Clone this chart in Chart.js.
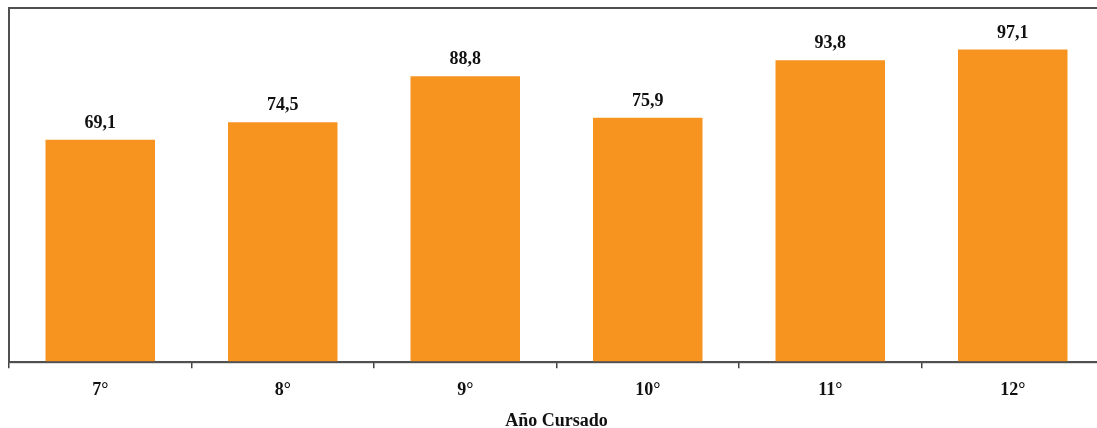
<!DOCTYPE html>
<html>
<head>
<meta charset="utf-8">
<script src="https://cdn.jsdelivr.net/npm/chart.js@4.4.1/dist/chart.umd.min.js"></script>
<style>
  html, body { margin: 0; padding: 0; background: #fff; overflow: hidden; }
  #wrap { width: 1120px; height: 429px; }
</style>
</head>
<body>
<div id="wrap"><canvas id="grafico" width="1120" height="429"></canvas></div>
<script>
// datos del gráfico
const cursos = ['7°', '8°', '9°', '10°', '11°', '12°'];
const valores = [69.1, 74.5, 88.8, 75.9, 93.8, 97.1];
const tituloEje = 'Año Cursado';

const fuente = { family: "'Liberation Serif', 'Times New Roman', serif", size: 18, weight: 'bold' };

// marco alrededor del área del gráfico
const marco = {
    id: 'marco',
    afterDraw(chart) {
        const { ctx, chartArea } = chart;
        ctx.save();
        ctx.strokeStyle = '#505050';
        ctx.lineWidth = 2;
        ctx.strokeRect(chartArea.left, chartArea.top, chartArea.right - chartArea.left, chartArea.bottom - chartArea.top);
        ctx.restore();
    }
};

// etiquetas con el valor encima de cada barra
const etiquetas = {
    id: 'etiquetas',
    afterDatasetsDraw(chart) {
        const { ctx } = chart;
        const meta = chart.getDatasetMeta(0);
        ctx.save();
        ctx.font = 'bold 18px "Liberation Serif", "Times New Roman", serif';
        ctx.fillStyle = '#111';
        ctx.textAlign = 'center';
        ctx.textBaseline = 'alphabetic';
        meta.data.forEach((bar, i) => {
            ctx.fillText(valores[i].toFixed(1).replace('.', ','), bar.x, bar.y - 12);
        });
        ctx.restore();
    }
};

new Chart(document.getElementById('grafico').getContext('2d'), {
    type: 'bar',
    data: {
        labels: cursos,
        datasets: [{
            data: valores,
            backgroundColor: '#F7941F',
            borderWidth: 0,
            barPercentage: 0.6,
            categoryPercentage: 1.0
        }]
    },
    options: {
        responsive: false,
        animation: false,
        layout: { padding: { left: 9, top: 8, right: 16, bottom: 0 } },
        plugins: {
            legend: { display: false },
            tooltip: { enabled: false }
        },
        scales: {
            x: {
                offset: true,
                grid: {
                    offset: true,
                    drawOnChartArea: false,
                    drawTicks: true,
                    tickLength: 6,
                    color: '#444',
                    lineWidth: 1.5
                },
                border: { display: true, color: '#505050', width: 2 },
                ticks: { color: '#111', font: fuente, padding: 11 },
                title: {
                    display: true,
                    text: tituloEje,
                    color: '#111',
                    font: { ...fuente, lineHeight: 0.9 },
                    padding: { top: 1, bottom: 0 }
                }
            },
            y: {
                display: false,
                min: 0,
                max: 110
            }
        }
    },
    plugins: [marco, etiquetas]
});
</script>
</body>
</html>
